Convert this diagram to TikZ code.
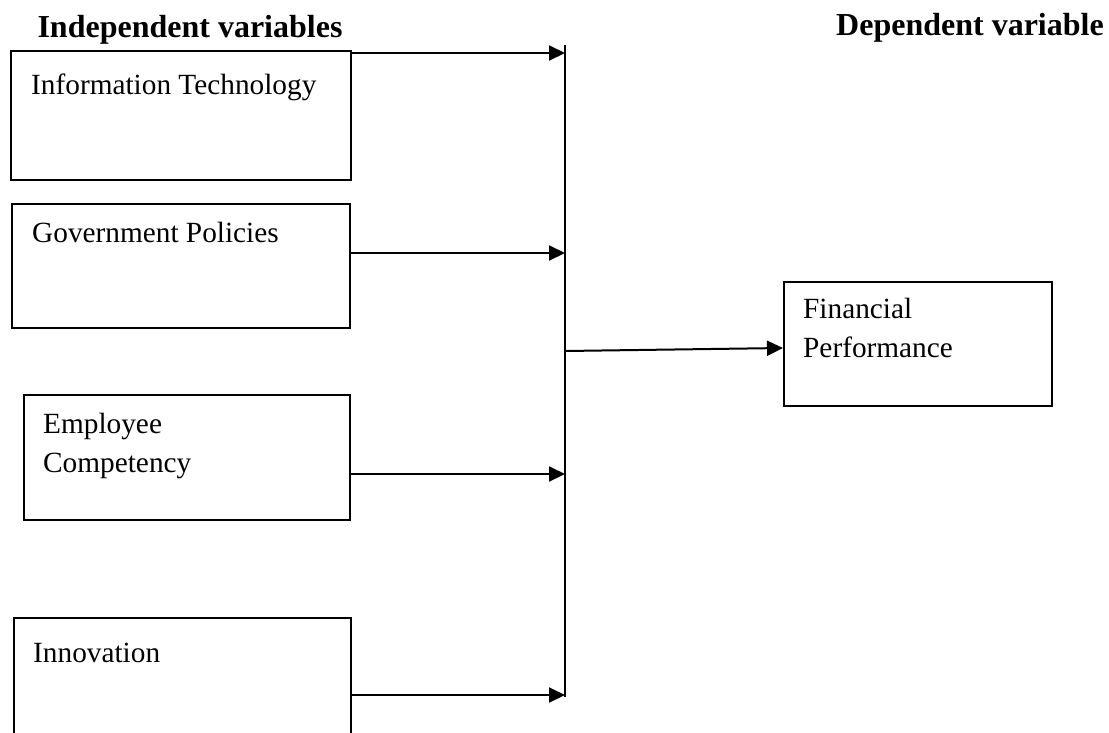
\documentclass[tikz,border=0pt]{standalone}
\usepackage{fontspec}
\setmainfont{Liberation Serif}
\usetikzlibrary{arrows.meta}

\tikzset{
	varbox/.style={draw, line width=2pt, anchor=north west, inner sep=0pt},
	boxtext/.style={anchor=base west, inner sep=0pt, align=left,
		font=\fontsize{29.3}{39}\selectfont},
	headtext/.style={anchor=base, inner sep=0pt,
		font=\fontsize{32}{38}\selectfont\bfseries},
	feed/.style={line width=2pt, -{Triangle[length=16pt, width=15pt]}}
}

\begin{document}
\begin{tikzpicture}[x=1pt, y=-1pt]
	%%%%% FRAME %%%%%
	\clip (0, 0) rectangle (1109, 732);
	\fill[white] (0, 0) rectangle (1109, 732);

	%%%%% HEADINGS %%%%%
	\node[headtext] (indep) at (190, 37) {Independent variables};
	\node[headtext] (dep) at (970, 35) {Dependent variable};

	%%%%% INDEPENDENT VARIABLES %%%%%
	\node[varbox, minimum width=340pt, minimum height=129pt] (it) at (10, 50) {};
	\node[boxtext] (ittext) at (31, 94) {Information Technology};

	\node[varbox, minimum width=338pt, minimum height=124pt] (gov) at (11, 203) {};
	\node[boxtext] (govtext) at (32, 242) {Government Policies};

	\node[varbox, minimum width=326pt, minimum height=125pt] (emp) at (23, 394) {};
	% base of a two-line node sits on its last line
	\node[boxtext] (emptext) at (43, 472) {Employee\\Competency};

	\node[varbox, minimum width=337pt, minimum height=140pt] (inno) at (13, 617) {};
	\node[boxtext] (innotext) at (33, 662) {Innovation};

	%%%%% DEPENDENT VARIABLE %%%%%
	\node[varbox, minimum width=268pt, minimum height=124pt] (fp) at (783, 281) {};
	\node[boxtext] (fptext) at (803, 357) {Financial\\Performance};

	%%%%% CONNECTORS %%%%%
	\coordinate (bustop) at (565, 45);
	\coordinate (busbot) at (565, 697);
	\coordinate (b1) at (565, 53);
	\coordinate (b2) at (565, 253);
	\coordinate (b3) at (565, 474);
	\coordinate (b4) at (565, 695);
	\coordinate (bout) at (565, 351);

	\draw[line width=2pt] (bustop) -- (busbot);
	\draw[feed] (it.east |- b1) -- (b1);
	\draw[feed] (gov.east |- b2) -- (b2);
	\draw[feed] (emp.east |- b3) -- (b3);
	\draw[feed] (inno.east |- b4) -- (b4);
	\draw[feed] (bout) -- ([yshift=-4pt]fp.west);
\end{tikzpicture}
\end{document}
